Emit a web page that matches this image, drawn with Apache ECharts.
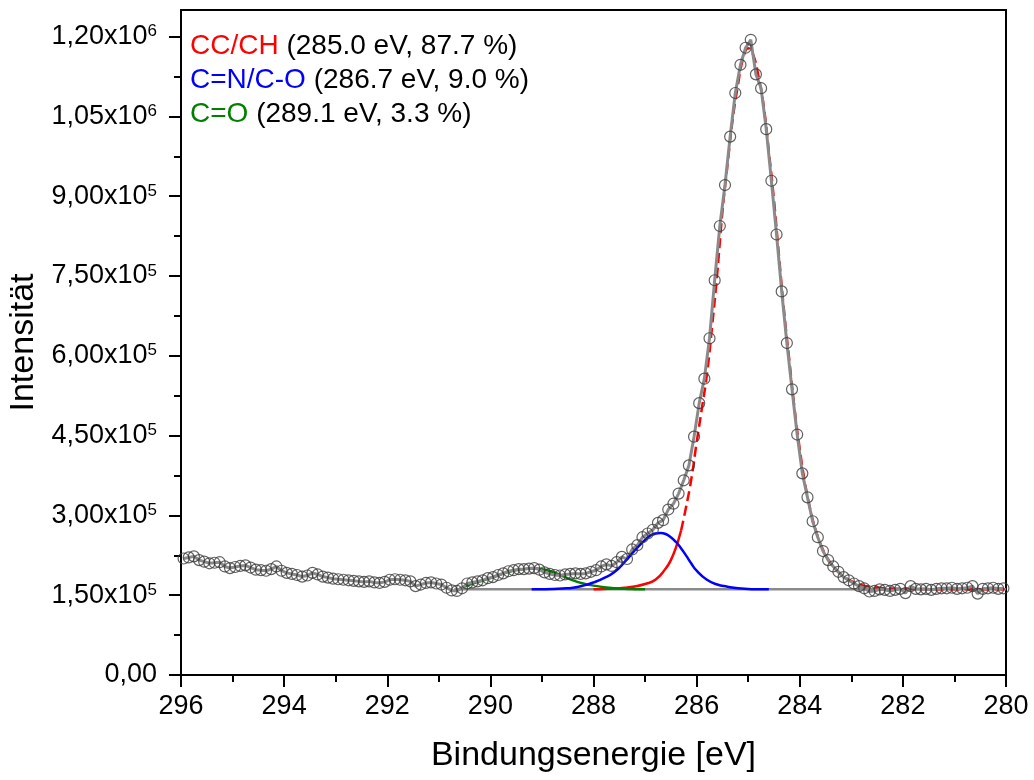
<!DOCTYPE html>
<html>
<head>
<meta charset="utf-8">
<title>C 1s Spektrum</title>
<script src="https://cdn.jsdelivr.net/npm/echarts@6.0.0/dist/echarts.min.js"></script>
<style>
  html, body { margin: 0; padding: 0; background: #fff; }
  #chart { width: 1034px; height: 780px; }
</style>
</head>
<body>
<div id="chart"></div>
<script>
// Messpunkte (Bindungsenergie in eV, Intensität in Counts)
const energy = [
  295.95, 295.85, 295.75, 295.65, 295.55, 295.45, 295.35, 295.25, 295.15, 295.05,
  294.95, 294.85, 294.75, 294.65, 294.55, 294.45, 294.35, 294.25, 294.15, 294.05,
  293.95, 293.85, 293.75, 293.65, 293.55, 293.45, 293.35, 293.25, 293.15, 293.05,
  292.95, 292.85, 292.75, 292.65, 292.55, 292.45, 292.35, 292.25, 292.15, 292.05,
  291.95, 291.85, 291.75, 291.65, 291.55, 291.45, 291.35, 291.25, 291.15, 291.05,
  290.95, 290.85, 290.75, 290.65, 290.55, 290.45, 290.35, 290.25, 290.15, 290.05,
  289.95, 289.85, 289.75, 289.65, 289.55, 289.45, 289.35, 289.25, 289.15, 289.05,
  288.95, 288.85, 288.75, 288.65, 288.55, 288.45, 288.35, 288.25, 288.15, 288.05,
  287.95, 287.85, 287.75, 287.65, 287.55, 287.45, 287.35, 287.25, 287.15, 287.05,
  286.95, 286.85, 286.75, 286.65, 286.55, 286.45, 286.35, 286.25, 286.15, 286.05,
  285.95, 285.85, 285.75, 285.65, 285.55, 285.45, 285.35, 285.25, 285.15, 285.05,
  284.95, 284.85, 284.75, 284.65, 284.55, 284.45, 284.35, 284.25, 284.15, 284.05,
  283.95, 283.85, 283.75, 283.65, 283.55, 283.45, 283.35, 283.25, 283.15, 283.05,
  282.95, 282.85, 282.75, 282.65, 282.55, 282.45, 282.35, 282.25, 282.15, 282.05,
  281.95, 281.85, 281.75, 281.65, 281.55, 281.45, 281.35, 281.25, 281.15, 281.05,
  280.95, 280.85, 280.75, 280.65, 280.55, 280.45, 280.35, 280.25, 280.15, 280.05
];
const counts = [
  219000, 221000, 223000, 216000, 213000, 210000, 211000, 212000, 204000, 201000,
  203000, 205000, 206000, 202000, 198000, 197000, 196000, 199000, 204000, 196000,
  192000, 190000, 188000, 185000, 187000, 192000, 189000, 185000, 183000, 181000,
  180000, 179000, 178000, 177000, 176000, 175000, 176000, 174000, 173000, 175000,
  179000, 180000, 179000, 178000, 176000, 167000, 170000, 173000, 174000, 172000,
  170000, 164000, 159000, 158000, 163000, 172000, 174000, 176000, 178000, 182000,
  184000, 188000, 191000, 195000, 197000, 199000, 199000, 200000, 201000, 198000,
  193000, 190000, 188000, 187000, 189000, 190000, 191000, 190000, 191000, 194000,
  197000, 204000, 208000, 205000, 212000, 222000, 218000, 236000, 244000, 259000,
  266000, 273000, 286000, 291000, 311000, 322000, 341000, 366000, 394000, 448000,
  511000, 557000, 633000, 742000, 844000, 921000, 1012000, 1094000, 1147000, 1179000,
  1194000, 1129000, 1103000, 1026000, 929000, 828000, 721000, 624000, 537000, 452000,
  379000, 334000, 289000, 259000, 233000, 216000, 204000, 194000, 184000, 178000,
  172000, 167000, 163000, 157000, 158000, 161000, 160000, 158000, 160000, 162000,
  154000, 167000, 162000, 161000, 162000, 160000, 162000, 163000, 163000, 164000,
  162000, 163000, 164000, 167000, 153000, 162000, 163000, 164000, 162000, 163000
];

// Untergrund
const baselineEnergy = [290.7, 280.0];
const baselineValues = [161000, 161000];

// Fitkomponenten inkl. Untergrund
const redEnergy = [
  288.0, 287.8, 287.6, 287.4, 287.2, 287.0, 286.8, 286.6, 286.5, 286.4,
  286.3, 286.2, 286.1, 286.0, 285.9, 285.8, 285.7, 285.6, 285.5, 285.4,
  285.3, 285.2, 285.1, 285.0, 284.9, 284.8, 284.7, 284.6, 284.5, 284.4,
  284.3, 284.2, 284.1, 284.0, 283.9, 283.8, 283.7, 283.6, 283.5, 283.4,
  283.3, 283.2, 283.1, 283.0, 282.8, 282.6, 282.4, 282.2, 282.0, 281.5,
  281.0, 280.0
];
const redValues = [
  161400, 161800, 162500, 164000, 166500, 171000, 179000, 200000, 216000, 240000,
  272000, 318000, 370000, 437000, 500000, 565000, 655000, 755000, 870000, 960000,
  1045000, 1108000, 1158000, 1178000, 1165000, 1125000, 1070000, 985000, 893000, 785000,
  680000, 590000, 500000, 425000, 362000, 313000, 275000, 247000, 226000, 210000,
  198000, 189000, 182000, 176500, 169000, 165500, 163500, 162500, 162000, 161400,
  161200, 161000
];
const blueEnergy = [
  289.2, 289.0, 288.8, 288.6, 288.4, 288.2, 288.0, 287.8, 287.6, 287.4,
  287.2, 287.0, 286.9, 286.8, 286.7, 286.6, 286.5, 286.4, 286.3, 286.2,
  286.1, 286.0, 285.8, 285.6, 285.4, 285.2, 285.0, 284.8, 284.6
];
const blueValues = [
  161000, 161200, 161600, 162500, 164000, 168000, 174000, 182000, 193000, 212000,
  234000, 254000, 262000, 266000, 267000, 265000, 259000, 250000, 238000, 224000,
  209000, 196000, 179000, 170000, 166000, 163000, 161800, 161300, 161000
];
const greenEnergy = [
  290.6, 290.4, 290.2, 290.0, 289.8, 289.6, 289.4, 289.2, 289.1, 289.0,
  288.8, 288.6, 288.4, 288.2, 288.0, 287.8, 287.6, 287.4, 287.2, 287.0
];
const greenValues = [
  162000, 170000, 176000, 182000, 189000, 195000, 198500, 200000, 200000, 199000,
  194000, 186000, 178000, 172000, 168000, 165000, 163000, 162000, 161400, 161000
];

// Legende
const compNames = ['CC/CH', 'C=N/C-O', 'C=O'];
const compEnergies = ['285.0', '286.7', '289.1'];
const compShares = ['87.7', '9.0', '3.3'];
const compColors = ['#ff0000', '#0000ff', '#008000'];

// Achsenticks
const yMajorTicks = [0, 150000, 300000, 450000, 600000, 750000, 900000, 1050000, 1200000];
const yMinorTicks = [75000, 225000, 375000, 525000, 675000, 825000, 975000, 1125000];

const FONT = 'Liberation Sans, Arial, Helvetica, sans-serif';

function pairs(xs, ys) {
  return xs.map((x, i) => [x, ys[i]]);
}

// 1,50x10^5 Format
function fmtIntensity(v) {
  if (v === 0) return '0,00';
  const e = Math.floor(Math.log10(v) + 1e-9);
  const m = (v / Math.pow(10, e)).toFixed(2).replace('.', ',');
  return m + 'x10{sup|' + e + '}';
}

const redSplit = redEnergy.indexOf(286.3);
const legendText = compNames.map((n, i) =>
  '{c' + i + '|' + n + '} (' + compEnergies[i] + ' eV, ' + compShares[i] + ' %)'
).join('\n');
const legendRich = {};
compColors.forEach((c, i) => { legendRich['c' + i] = { fill: c, fontSize: 28, fontFamily: FONT }; });

const chart = echarts.init(document.getElementById('chart'), null, { renderer: 'canvas' });

chart.setOption({
  animation: false,
  backgroundColor: '#fff',
  grid: {
    left: 181, right: 28, top: 10, bottom: 105,
    show: true, borderColor: '#000', borderWidth: 2,
    outerBoundsMode: 'none'
  },
  xAxis: {
    type: 'value', min: 280, max: 296, interval: 2, inverse: true,
    name: 'Bindungsenergie [eV]', nameLocation: 'middle', nameGap: 64,
    nameTextStyle: { fontSize: 34, color: '#000', fontFamily: FONT },
    axisLine: { show: true, onZero: false, lineStyle: { color: '#000', width: 2 } },
    axisTick: { show: true, length: 12, lineStyle: { color: '#000', width: 2 } },
    minorTick: { show: true, splitNumber: 2, length: 7, lineStyle: { color: '#000', width: 2 } },
    axisLabel: { fontSize: 27, color: '#000', margin: 18, fontFamily: FONT, showMinLabel: true, showMaxLabel: true },
    splitLine: { show: false }
  },
  yAxis: [{
    type: 'value', min: 0, max: 1250000, interval: 150000, position: 'left',
    name: 'Intensität', nameLocation: 'middle', nameGap: 131,
    nameTextStyle: { fontSize: 34, color: '#000', fontFamily: FONT },
    axisLine: { show: true, onZero: false, lineStyle: { color: '#000', width: 2 } },
    axisTick: { show: true, length: 12, customValues: yMajorTicks, lineStyle: { color: '#000', width: 2 } },
    axisLabel: {
      fontSize: 27, color: '#000', margin: 24, fontFamily: FONT,
      customValues: yMajorTicks,
      formatter: fmtIntensity,
      rich: { sup: { fontSize: 17, verticalAlign: 'top', fontFamily: FONT, color: '#000' } }
    },
    splitLine: { show: false }
  }, {
    type: 'value', min: 0, max: 1250000, position: 'left', offset: 0,
    axisLine: { show: false },
    axisTick: { show: true, length: 7, customValues: yMinorTicks, lineStyle: { color: '#000', width: 2 } },
    axisLabel: { show: false },
    splitLine: { show: false }
  }],
  graphic: [{
    type: 'text', left: 190, top: 29, z: 100,
    style: {
      text: legendText, rich: legendRich,
      fill: '#000', fontSize: 28, fontFamily: FONT, lineHeight: 34
    }
  }],
  series: [
    {
      name: 'Untergrund', type: 'line', data: pairs(baselineEnergy, baselineValues),
      showSymbol: false, z: 1, lineStyle: { color: '#8a8a8a', width: 2.5 }
    },
    {
      name: 'CC/CH', type: 'line', data: pairs(redEnergy, redValues).slice(0, redSplit + 1),
      showSymbol: false, smooth: true, z: 2, lineStyle: { color: '#ff0000', width: 2.5 }
    },
    {
      name: 'CC/CH ', type: 'line', data: pairs(redEnergy, redValues).slice(redSplit),
      showSymbol: false, smooth: true, z: 2, lineStyle: { color: '#ff0000', width: 2.5, type: [10, 5] }
    },
    {
      name: 'C=O', type: 'line', data: pairs(greenEnergy, greenValues),
      showSymbol: false, smooth: true, z: 2, lineStyle: { color: '#008000', width: 2.5 }
    },
    {
      name: 'Messdaten Linie', type: 'line', data: pairs(energy, counts),
      showSymbol: false, z: 3, lineStyle: { color: '#8a8a8a', width: 3 }
    },
    {
      name: 'C=N/C-O', type: 'line', data: pairs(blueEnergy, blueValues),
      showSymbol: false, smooth: true, z: 4, lineStyle: { color: '#0000ff', width: 2.5 }
    },
    {
      name: 'Messdaten', type: 'scatter', data: pairs(energy, counts),
      symbol: 'circle', symbolSize: 11, z: 5,
      itemStyle: { color: 'rgba(255,255,255,0)', borderColor: '#3a3a3a', borderWidth: 1.2 }
    }
  ]
});
</script>
</body>
</html>
